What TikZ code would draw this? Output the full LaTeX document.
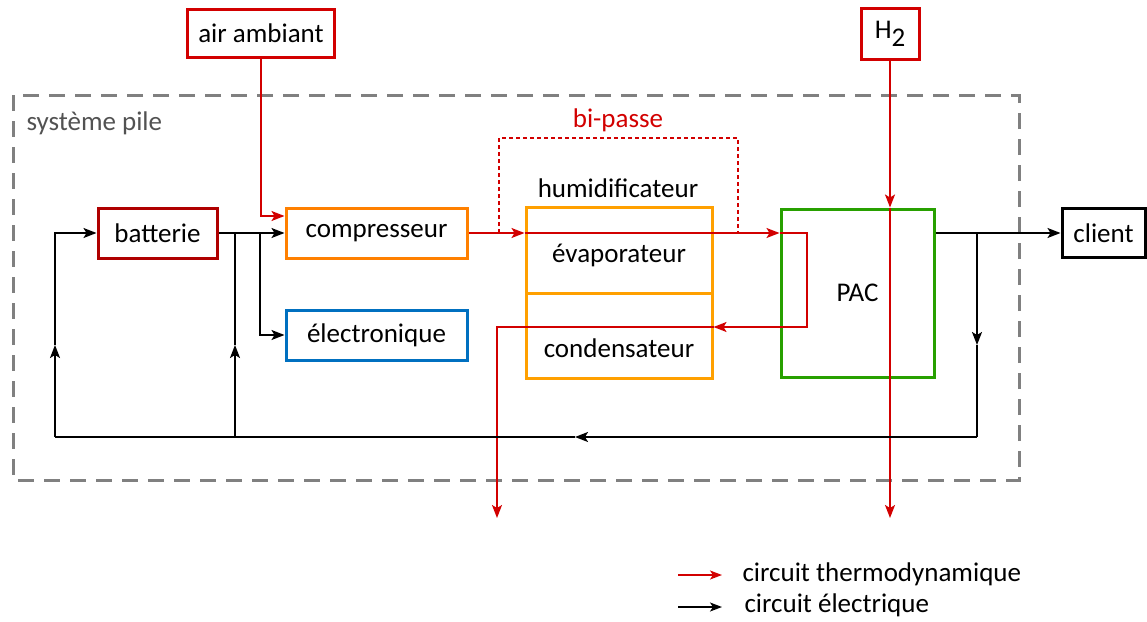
\documentclass[tikz,border=0pt]{standalone}
\usepackage{fontspec}
\setmainfont{Carlito}
\usetikzlibrary{arrows.meta,calc}
\definecolor{cred}{RGB}{210,0,0}
\definecolor{cdred}{RGB}{175,0,0}
\definecolor{corange}{RGB}{255,128,0}
\definecolor{camber}{RGB}{255,160,0}
\definecolor{cblue}{RGB}{0,112,192}
\definecolor{cgreen}{RGB}{40,160,0}
\definecolor{cgray}{RGB}{128,128,128}
\begin{document}
\begin{tikzpicture}[x=1pt,y=-1pt,
  every node/.style={font=\fontsize{27}{31}\selectfont},
  box/.style={draw,line width=3pt,inner sep=0pt,rectangle},
  thermo/.style={draw=cred,line width=1.6pt},
  elecl/.style={draw=black,line width=1.6pt},
  tip/.style={-{Stealth[length=13pt,width=10pt,inset=3pt]}},
]
\useasboundingbox (0,0) rectangle (1147,621);

% system boundary
\draw[cgray,line width=3pt,dash pattern=on 16pt off 10pt] (13,95) rectangle (1019,480);
\node[anchor=west,text=black!68] (sys) at (23,123) {système pile};

% boxes
\node[box,draw=cred,minimum width=147pt,minimum height=48pt] (air) at (261,33) {air ambiant};
\node[box,draw=cred,minimum width=58pt,minimum height=51pt] (h2) at (890,33.5) {H\raisebox{-8pt}{2}};
\node[box,draw=cdred,minimum width=119pt,minimum height=50pt] (bat) at (157.5,233) {batterie};
\node[box,draw=corange,minimum width=181pt,minimum height=50pt] (comp) at (376.5,233) {compresseur};
\node[box,draw=cblue,minimum width=181pt,minimum height=50pt] (elec) at (376.5,335) {électronique};
\node[box,draw=camber,minimum width=186pt,minimum height=86pt,label={[yshift=-5pt]center:évaporateur}] (evap) at (619,250) {};
\node[box,draw=camber,minimum width=186pt,minimum height=85pt,label={[yshift=-13pt]center:condensateur}] (cond) at (619,335.5) {};
\node (hum) at (618,188) {humidificateur};
\node[box,draw=cgreen,minimum width=153pt,minimum height=168pt] (pac) at (857.5,293) {PAC};
\node[box,draw=black,minimum width=83pt,minimum height=49pt] (client) at (1103.5,233) {client};
\node[text=cred] (bp) at (618,120) {bi-passe};

% coordinates
\coordinate (pin) at (pac.west |- comp.east);
\coordinate (pturn) at (807,327);
\coordinate (cin) at (cond.east |- pturn);
\coordinate (out1) at (497,518);
\coordinate (out2) at (890,518);
\coordinate (h2in) at (h2.south |- pac.north);
\coordinate (bp1) at (499,233);
\coordinate (bp2) at (738,138);
\coordinate (bp3) at (738,233);
\coordinate (j1) at (260,233);
\coordinate (j2) at (235,233);
\coordinate (b2) at (235,437);
\coordinate (m2) at (235,345);
\coordinate (b1) at (55,437);
\coordinate (m1) at (55,345);
\coordinate (j3) at (977,233);
\coordinate (m3) at (977,345);
\coordinate (b3) at (977,437);
\coordinate (mb) at (575,437);

% thermodynamic circuit
\draw[thermo,tip] (air.south) |- ($(comp.west)+(0,-17)$);
\draw[thermo,tip] (comp.east) -- (evap.west |- comp.east);
\draw[thermo,tip] (evap.west |- comp.east) -- (pin);
\draw[thermo,tip] (pin) -| (pturn) -- (cin);
\draw[thermo,tip] (cin) -| (out1);
\draw[thermo,dash pattern=on 4pt off 3pt] (bp1) |- (bp2) -- (bp3);
\draw[thermo,tip] (h2.south) -- (h2in);
\draw[thermo,tip] (h2in) -- (out2);

% electrical circuit
\draw[elecl,tip] (bat.east) -- (comp.west);
\draw[elecl,tip] (j1) |- (elec.west);
\draw[elecl,tip] (b2) -- (m2);
\draw[elecl] (m2) -- (j2);
\draw[elecl,tip] (b1) -- (m1);
\draw[elecl,tip] (m1) |- (bat.west);
\draw[elecl,tip] (pac.east |- client.west) -- (client.west);
\draw[elecl,tip] (j3) -- (m3);
\draw[elecl] (m3) -- (b3);
\draw[elecl,tip] (b3) -- (mb);
\draw[elecl] (mb) -- (b1);

% legend
\coordinate (l1a) at (678,575);
\coordinate (l1b) at (722,575);
\coordinate (l2a) at (678,607);
\coordinate (l2b) at (722,607);
\draw[thermo,-{Stealth[length=12pt,width=9pt,inset=3pt]}] (l1a) -- (l1b);
\draw[elecl,-{Stealth[length=12pt,width=9pt,inset=3pt]}] (l2a) -- (l2b);
\node[anchor=west] (lt1) at (739,574) {circuit thermodynamique};
\node[anchor=west] (lt2) at (741,605) {circuit électrique};
\end{tikzpicture}
\end{document}
